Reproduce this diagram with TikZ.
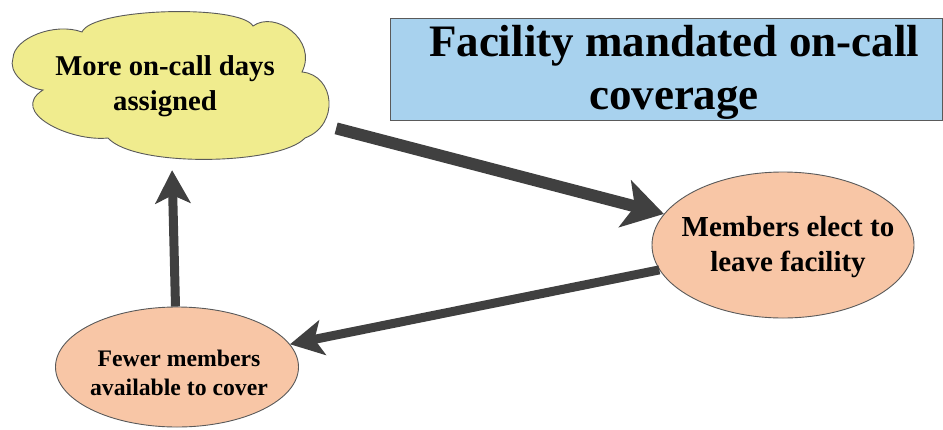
\documentclass[tikz,border=0pt]{standalone}
\usepackage{fontspec}
\setmainfont{Liberation Serif}[BoldFont={Liberation Serif Bold}]
\usetikzlibrary{shapes.geometric,arrows.meta}
\definecolor{cloudfill}{RGB}{240,236,142}
\definecolor{peach}{RGB}{248,198,166}
\definecolor{skyblue}{RGB}{168,210,238}
\definecolor{arrowgray}{RGB}{64,64,64}
\definecolor{edgegray}{RGB}{90,90,90}
\begin{document}
\begin{tikzpicture}[x=1pt,y=-1pt,
  shapeline/.style={draw=edgegray,line width=0.9pt},
  oval/.style={shapeline,ellipse,fill=peach,inner sep=0pt},
  lbl/.style={align=center,inner sep=0pt,text=black},
  arr/.style={draw=arrowgray,line cap=butt},
]
\useasboundingbox (0,0) rectangle (943,429);
\fill[white] (0,0) rectangle (943,429);

% title box
\node[shapeline,fill=skyblue,rectangle,minimum width=552pt,minimum height=102pt,inner sep=0pt] (titlebox) at (666,69) {};
\node[lbl,font=\fontsize{45}{53}\selectfont\bfseries] (titletext) at (674,72) {Facility mandated on-call\\coverage};

% cloud outline
\draw[shapeline,fill=cloudfill]
  (13,58) .. controls (14,38) and (55,22) .. (82,32)
  .. controls (92,8) and (240,4) .. (253,26)
  .. controls (275,10) and (318,40) .. (302,72)
  .. controls (335,75) and (340,125) .. (305,138)
  .. controls (280,165) and (135,168) .. (108,138)
  .. controls (70,142) and (8,112) .. (43,90)
  .. controls (25,88) and (8,72) .. (13,58) -- cycle;
\node[ellipse,minimum width=320pt,minimum height=150pt,inner sep=0pt] (cloud) at (170,85) {};
\node[lbl,font=\fontsize{28.7}{35}\selectfont\bfseries] (cloudtext) at (165,86) {More on-call days\\assigned};

% ellipses
\node[oval,minimum width=262pt,minimum height=146pt] (leave) at (783,245) {};
\node[lbl,font=\fontsize{29}{35}\selectfont\bfseries] (leavetext) at (788,247) {Members elect to\\leave facility};

\node[oval,minimum width=243pt,minimum height=120pt] (fewer) at (177,367) {};
\node[lbl,font=\fontsize{23.7}{29}\selectfont\bfseries] (fewertext) at (179,373) {Fewer members\\available to cover};

% arrows
\draw[arr,line width=12pt,-{Stealth[length=40pt,width=48pt,inset=10pt]},shorten <=27pt] (cloud) -- (leave);
\draw[arr,line width=9pt,-{Stealth[length=33pt,width=35pt,inset=8pt]}] (leave) -- (fewer);
\draw[arr,line width=9pt,-{Stealth[length=33pt,width=35pt,inset=8pt]},shorten >=10pt] (fewer) -- (cloud);
\end{tikzpicture}
\end{document}
